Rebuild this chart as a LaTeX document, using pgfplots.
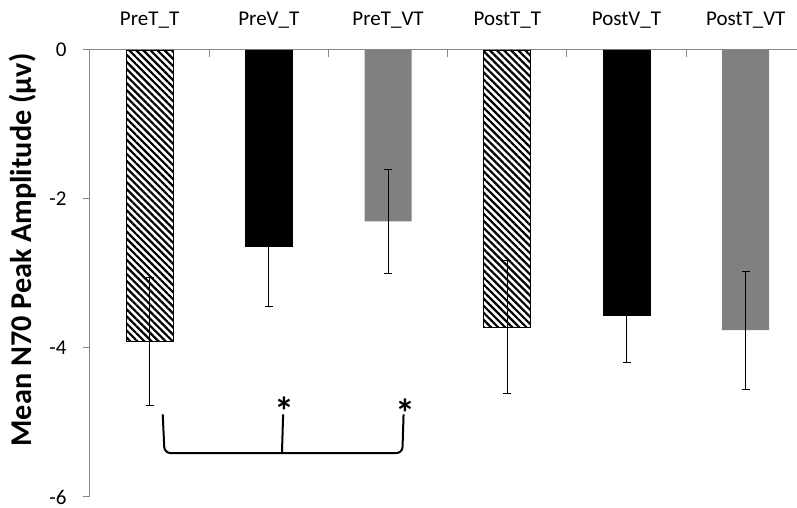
\documentclass[border=0pt]{standalone}
\usepackage{pgfplots}
\pgfplotsset{compat=1.18}
\usepackage{fontspec}
\setmainfont{Carlito}
\usetikzlibrary{patterns.meta}

\definecolor{axisgray}{RGB}{134,134,134}
\definecolor{bargray}{RGB}{128,128,128}

\begin{document}
\begin{tikzpicture}
\path[use as bounding box] (-90pt,-11pt) rectangle (707pt,497pt);
\begin{axis}[
  at={(0,0)}, anchor=south west,
  scale only axis, width=707pt, height=447pt,
  xmin=-0.5, xmax=5.43, ymin=-6, ymax=0,
  axis x line*=top, axis y line*=left,
  axis line style={draw=axisgray, line width=1pt},
  tick align=inside,
  major tick length=7pt, minor tick length=7pt,
  xtick={0,1,2,3,4,5},
  xticklabels={PreT\_T,PreV\_T,PreT\_VT,PostT\_T,PostV\_T,PostT\_VT},
  major x tick style={draw=none},
  minor xtick={0.5,1.5,2.5,3.5,4.5},
  minor x tick style={draw=axisgray, line width=1pt},
  y tick style={draw=axisgray, line width=1pt, xshift=-7pt},
  ytick={-6,-4,-2,0},
  yticklabels={-6,-4,-2,0},
  xticklabel style={font=\fontsize{21}{23}\selectfont, anchor=base, yshift=24pt},
  yticklabel style={font=\fontsize{21}{23}\selectfont, xshift=-20pt},
  ylabel={Mean N70 Peak Amplitude (μv)},
  every axis y label/.style={at={(axis description cs:0,0.5)}, xshift=-58pt, yshift=23.5pt,
    rotate=90, anchor=base, font=\bfseries\fontsize{30.2}{32}\selectfont},
  clip=false,
]
% touch-only conditions (hatched)
\addplot[ybar, bar width=47pt, bar shift=0pt, draw=black, line width=0.8pt,
  pattern={Lines[angle=-45,distance=5pt,line width=2.2pt]},
  error bars/.cd, y dir=both, y explicit,
  error bar style={black, line width=0.9pt},
  error mark options={rotate=90, black, mark size=4pt, line width=0.9pt}]
  coordinates {(0,-3.91) +- (0,0.855) (3,-3.72) +- (0,0.895)};
% vision-touch conditions (black)
\addplot[ybar, bar width=47pt, bar shift=0pt, draw=black, fill=black, line width=0.8pt,
  error bars/.cd, y dir=both, y explicit,
  error bar style={black, line width=0.9pt},
  error mark options={rotate=90, black, mark size=4pt, line width=0.9pt}]
  coordinates {(1,-2.64) +- (0,0.80) (4,-3.56) +- (0,0.64)};
% combined conditions (gray)
\addplot[ybar, bar width=47pt, bar shift=0pt, draw=none, fill=bargray,
  error bars/.cd, y dir=both, y explicit,
  error bar style={black, line width=0.9pt},
  error mark options={rotate=90, black, mark size=4pt, line width=0.9pt}]
  coordinates {(2,-2.30) +- (0,0.70) (5,-3.76) +- (0,0.79)};
% significance bracket
\draw[line width=2pt, rounded corners=6pt]
  (axis cs:0.11,-4.89) -- (axis cs:0.125,-5.41) -- (axis cs:2.12,-5.41) -- (axis cs:2.13,-4.89);
\draw[line width=2pt] (axis cs:1.12,-4.89) -- (axis cs:1.11,-5.41);
\node[font=\bfseries\fontsize{40}{42}\selectfont, anchor=center, yshift=-5.7pt] at (axis cs:1.128,-4.77) {*};
\node[font=\bfseries\fontsize{40}{42}\selectfont, anchor=center, yshift=-5.7pt] at (axis cs:2.148,-4.80) {*};
\end{axis}
\end{tikzpicture}
\end{document}
